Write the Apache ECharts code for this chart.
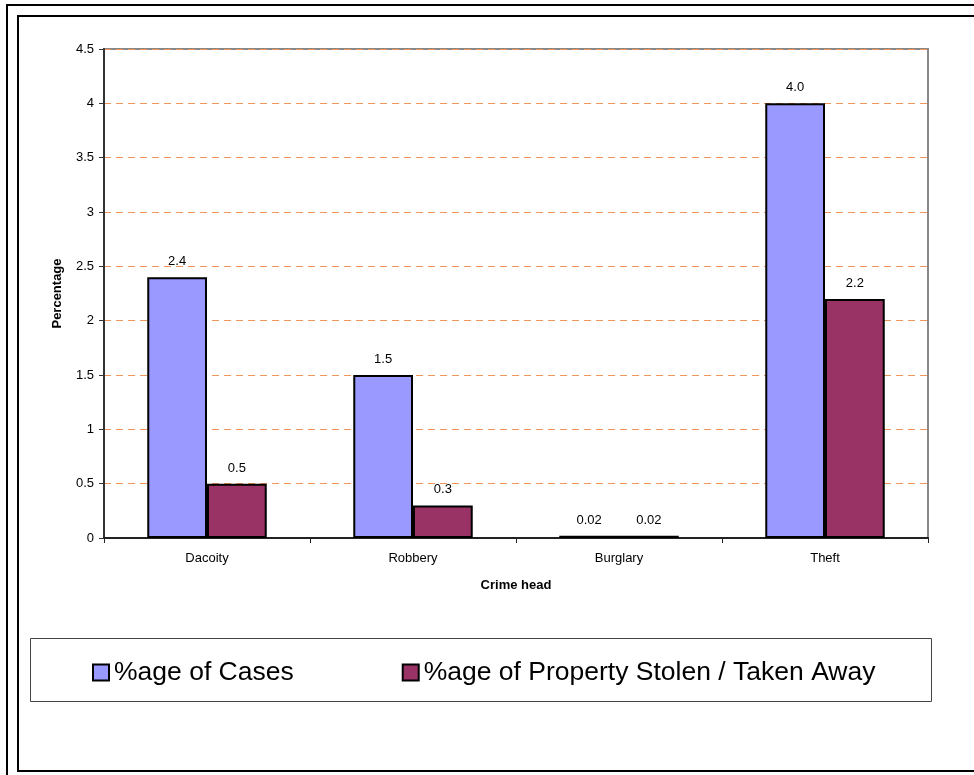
<!DOCTYPE html>
<html>
<head>
<meta charset="utf-8">
<script src="https://cdn.jsdelivr.net/npm/echarts@6/dist/echarts.min.js"></script>
<style>
html,body{margin:0;padding:0;background:#fff;}
#chart{width:974px;height:775px;}
</style>
</head>
<body>
<div id="chart"></div>
<script>
const categories = ['Dacoity', 'Robbery', 'Burglary', 'Theft'];
const casesPct = [2.4, 1.5, 0.02, 4.0];
const propertyPct = [0.5, 0.3, 0.02, 2.2];
const seriesNames = ['%age of Cases', '%age of Property Stolen / Taken Away'];
const yTicks = [0, 0.5, 1, 1.5, 2, 2.5, 3, 3.5, 4, 4.5];

const FONT = '"Liberation Sans", Arial, sans-serif';
const chart = echarts.init(document.getElementById('chart'), null, {renderer: 'canvas'});

function fmt(p) {
  const v = p.value;
  return v < 0.1 ? v.toFixed(2) : v.toFixed(1);
}

const labelCfg = {show: true, position: 'top', distance: 9, color: '#000', fontSize: 13, fontFamily: FONT, formatter: fmt};

chart.setOption({
  backgroundColor: '#fff',
  animation: false,
  textStyle: {fontFamily: FONT},
  graphic: [
    {type: 'rect', shape: {x: 7, y: 5, width: 1000, height: 800}, style: {fill: 'none', stroke: '#000', lineWidth: 2}, silent: true, z: -1},
    {type: 'rect', shape: {x: 18, y: 16, width: 1000, height: 755}, style: {fill: 'none', stroke: '#000', lineWidth: 2}, silent: true, z: -1},
    {type: 'rect', shape: {x: 30.5, y: 638.5, width: 901, height: 63}, style: {fill: 'none', stroke: '#444', lineWidth: 1}, silent: true, z: -1}
  ],
  legend: {
    data: seriesNames,
    left: 87,
    top: 654,
    itemWidth: 16,
    itemHeight: 16,
    itemGap: 108,
    icon: 'rect',
    textStyle: {fontSize: 26.5, color: '#000', fontFamily: FONT}
  },
  grid: {
    left: 104, right: 46, top: 49, bottom: 237,
    show: true, borderColor: '#888', borderWidth: 2, backgroundColor: 'transparent'
  },
  xAxis: {
    type: 'category',
    data: categories,
    name: 'Crime head',
    nameLocation: 'middle',
    nameGap: 41,
    nameTextStyle: {fontWeight: 'bold', fontSize: 13, color: '#000', fontFamily: FONT},
    axisLine: {lineStyle: {color: '#222', width: 2}},
    axisTick: {show: true, length: 5, lineStyle: {color: '#222'}},
    axisLabel: {fontSize: 13, color: '#000', margin: 14, fontFamily: FONT}
  },
  yAxis: {
    type: 'value',
    min: 0, max: 4.5, interval: 0.5,
    name: 'Percentage',
    nameLocation: 'middle',
    nameGap: 40,
    nameRotate: 90,
    nameTextStyle: {fontWeight: 'bold', fontSize: 13, color: '#000', fontFamily: FONT},
    axisLine: {show: true, lineStyle: {color: '#333', width: 2}},
    axisTick: {show: true, length: 5, lineStyle: {color: '#333'}},
    axisLabel: {fontSize: 13, color: '#000', margin: 10, fontFamily: FONT,
      formatter: v => yTicks.includes(v) ? String(v) : ''},
    splitLine: {show: true, lineStyle: {color: '#f0945a', width: 1, type: [7, 5]}}
  },
  series: [
    {
      name: seriesNames[0], type: 'bar', data: casesPct,
      barGap: '0%', barCategoryGap: '42%',
      itemStyle: {color: '#9999ff', borderColor: '#000', borderWidth: 2},
      label: labelCfg
    },
    {
      name: seriesNames[1], type: 'bar', data: propertyPct,
      barGap: '0%', barCategoryGap: '42%',
      itemStyle: {color: '#993366', borderColor: '#000', borderWidth: 2},
      label: labelCfg
    }
  ]
});
</script>
</body>
</html>
